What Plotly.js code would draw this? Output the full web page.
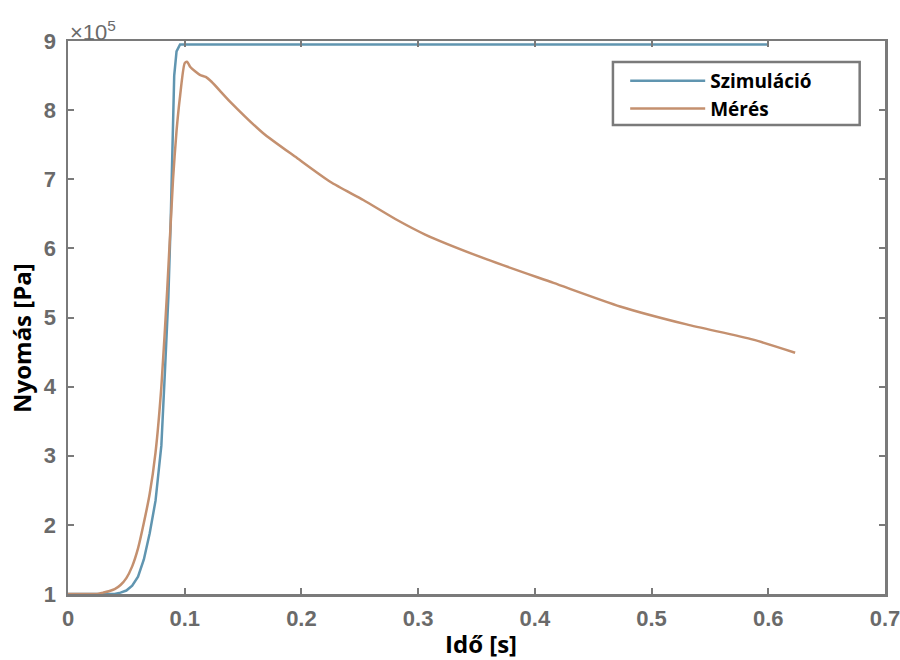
<!DOCTYPE html>
<html>
<head>
<meta charset="utf-8">
<script src="https://cdn.plot.ly/plotly-3.0.1.min.js"></script>
<style>html,body{margin:0;padding:0;background:#fff;}#chart{width:900px;height:660px;}</style>
</head>
<body>
<div id="chart"></div>
<script>
// Time [s]
var simTime = [0, 0.04, 0.045, 0.05, 0.055, 0.06, 0.065, 0.07, 0.075, 0.08, 0.083, 0.086, 0.088, 0.089, 0.090, 0.091, 0.093, 0.096, 0.6];
// Pressure [x1e5 Pa]
var simPressure = [1, 1, 1.02, 1.05, 1.12, 1.25, 1.5, 1.88, 2.35, 3.15, 4.2, 5.3, 6.4, 7.0, 7.8, 8.5, 8.85, 8.95, 8.95];

var measTime = [0, 0.02, 0.025, 0.03, 0.035, 0.04, 0.045, 0.05, 0.055, 0.06, 0.065, 0.07, 0.075, 0.08, 0.085, 0.09, 0.093, 0.096, 0.1, 0.102, 0.105, 0.113, 0.118, 0.123, 0.139, 0.167, 0.196, 0.225, 0.253, 0.282, 0.306, 0.359, 0.416, 0.473, 0.53, 0.587, 0.623];
var measPressure = [1, 1, 1.0, 1.02, 1.04, 1.07, 1.13, 1.23, 1.4, 1.66, 2.03, 2.45, 3.05, 4.0, 5.4, 7.0, 7.7, 8.2, 8.68, 8.70, 8.62, 8.51, 8.48, 8.41, 8.12, 7.67, 7.31, 6.96, 6.70, 6.41, 6.2, 5.84, 5.50, 5.16, 4.90, 4.68, 4.49];

var xTicks = [0, 0.1, 0.2, 0.3, 0.4, 0.5, 0.6, 0.7];
var xTickText = ["0", "0.1", "0.2", "0.3", "0.4", "0.5", "0.6", "0.7"];
var yTicks = [1, 2, 3, 4, 5, 6, 7, 8, 9];

var seriesNames = ["Szimuláció", "Mérés"];
var xTitle = "Idő [s]";
var yTitle = "Nyomás [Pa]";

var tickFont = {family: "Liberation Sans, Arial, sans-serif", size: 22, color: "#6a6a6a", weight: "bold"};
var titleFont = {family: "Open Sans, sans-serif", size: 24, color: "#000", weight: "bold"};

var traces = [
  {x: simTime, y: simPressure, type: "scatter", mode: "lines", name: seriesNames[0],
   line: {color: "#6095b0", width: 2.5}},
  {x: measTime, y: measPressure, type: "scatter", mode: "lines", name: seriesNames[1],
   line: {color: "#c4906f", width: 2.5, shape: "spline", smoothing: 0.6}}
];

var axisCommon = {
  showline: true, linecolor: "#7a7a7a", linewidth: 2.5, mirror: "ticks",
  ticks: "inside", ticklen: 6, tickwidth: 2, tickcolor: "#7a7a7a",
  showgrid: false, zeroline: false, tickfont: tickFont,
  ticklabeloverflow: "allow"
};

var layout = {
  width: 900, height: 660,
  margin: {l: 68, r: 15, t: 41, b: 66},
  paper_bgcolor: "#fff", plot_bgcolor: "#fff",
  showlegend: true,
  legend: {
    x: 0.682, y: 0.962, xanchor: "left", yanchor: "top",
    bgcolor: "rgba(0,0,0,0)", borderwidth: 0,
    font: {family: "Open Sans, sans-serif", size: 19, color: "#000", weight: "bold"},
    itemwidth: 75, tracegroupgap: 0
  },
  shapes: [{
    type: "rect", xref: "paper", yref: "paper",
    x0: 0.667, x1: 0.969, y0: 0.848, y1: 0.962,
    line: {color: "#7a7a7a", width: 2.5}, fillcolor: "rgba(0,0,0,0)", layer: "above"
  }],
  xaxis: Object.assign({}, axisCommon, {
    range: [0, 0.7], tickvals: xTicks, ticktext: xTickText,
    ticklabelstandoff: 3
  }),
  yaxis: Object.assign({}, axisCommon, {
    range: [1, 9], tickvals: yTicks,
    ticklabelstandoff: 5
  }),
  annotations: [
    {xref: "paper", yref: "paper", x: 0, y: 1, xanchor: "left", yanchor: "bottom",
     text: "×10<sup>5</sup>", showarrow: false, yshift: -6,
     font: {family: "Liberation Sans, Arial, sans-serif", size: 22, color: "#6a6a6a"}},
    {xref: "paper", yref: "paper", x: 0.5, y: 0, xanchor: "center", yanchor: "middle",
     yshift: -49, xshift: 4, text: xTitle, showarrow: false, font: titleFont},
    {xref: "paper", yref: "paper", x: 0, y: 0.463, xanchor: "center", yanchor: "middle",
     xshift: -46, textangle: -90, text: yTitle, showarrow: false, font: titleFont}
  ]
};

Plotly.newPlot("chart", traces, layout, {displayModeBar: false, staticPlot: true});
</script>
</body>
</html>
